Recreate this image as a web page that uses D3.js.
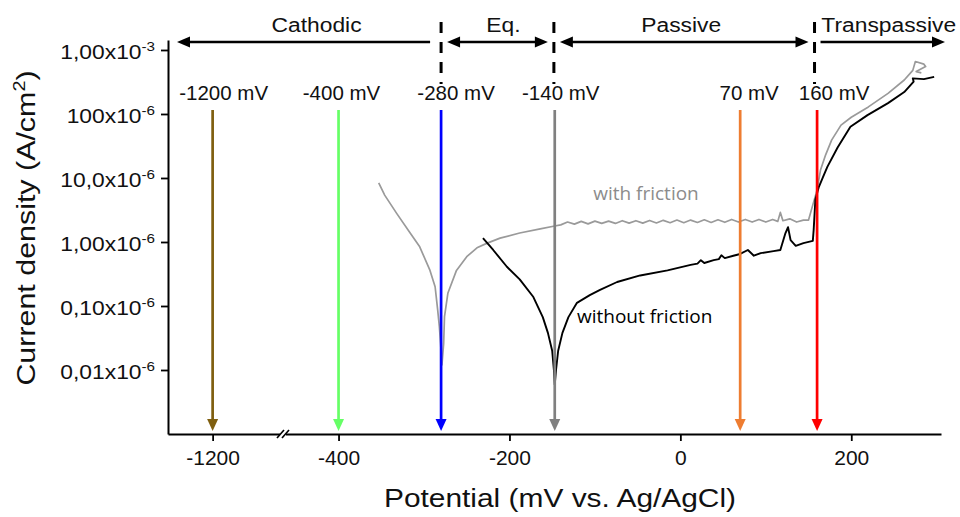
<!DOCTYPE html>
<html><head><meta charset="utf-8">
<script src="https://cdn.jsdelivr.net/npm/d3@7"></script>
<style>body{margin:0;background:#fff}svg{display:block}</style>
</head><body>
<svg id="c" width="960" height="517"></svg>
<script>
// ---------- data ----------
const xTicks = [-1200, -400, -200, 0, 200];
const xTickLabels = ["-1200", "-400", "-200", "0", "200"];
const yTicks = [1e-3, 1e-4, 1e-5, 1e-6, 1e-7, 1e-8];
const yTickMain = ["1,00x10", "100x10", "10,0x10", "1,00x10", "0,10x10", "0,01x10"];
const yTickSup = ["-3", "-6", "-6", "-6", "-6", "-6"];

// potential (mV), current density (A/cm2)
const withFriction = [
  [-353, 8.4e-6], [-346, 5.4e-6], [-332, 2.8e-6], [-317, 1.43e-6], [-305, 8.4e-7],
  [-293, 3.6e-7], [-287, 2.0e-7], [-284, 8.7e-8], [-282, 4.7e-8], [-280.5, 2.5e-8],
  [-279, 1.2e-8], [-277, 2.6e-8], [-276, 6.8e-8], [-272, 1.6e-7], [-262, 3.6e-7],
  [-250, 5.9e-7], [-238, 8.1e-7], [-226, 9.6e-7], [-211, 1.15e-6], [-188, 1.38e-6],
  [-164, 1.6e-6], [-147, 1.78e-6], [-140, 1.85e-6], [-132, 2.05e-6], [-124, 1.9e-6],
  [-116, 2.1e-6], [-108, 1.92e-6], [-100, 2.12e-6], [-92, 1.95e-6], [-84, 2.12e-6],
  [-76, 1.95e-6], [-68, 2.15e-6], [-60, 1.97e-6], [-52, 2.15e-6], [-44, 1.97e-6],
  [-36, 2.17e-6], [-28, 1.98e-6], [-20, 2.18e-6], [-12, 2.0e-6], [-4, 2.2e-6],
  [4, 2.0e-6], [12, 2.2e-6], [20, 2.02e-6], [28, 2.22e-6], [36, 2.02e-6],
  [44, 2.22e-6], [52, 2.03e-6], [60, 2.25e-6], [68, 2.05e-6], [76, 2.25e-6],
  [84, 2.05e-6], [92, 2.25e-6], [100, 2.05e-6], [108, 2.25e-6], [114, 2.1e-6],
  [117, 2.9e-6], [120, 2.15e-6], [128, 2.3e-6], [136, 2.05e-6], [144, 2.2e-6],
  [150, 2.2e-6], [155, 3.8e-6], [160, 6.5e-6], [164, 1.33e-5], [170, 2.3e-5],
  [177, 3.9e-5], [188, 6.7e-5], [200, 8.9e-5], [220, 1.29e-4], [243, 2.1e-4],
  [262, 3.4e-4], [272, 4.8e-4], [275, 6.6e-4], [285, 6.0e-4], [287, 5.5e-4],
  [276, 4.6e-4], [282, 4.4e-4]
];
const withoutFriction = [
  [-231, 1.15e-6], [-219, 7.5e-7], [-203, 4.1e-7], [-188, 2.6e-7], [-172, 1.38e-7],
  [-161, 6.7e-8], [-155, 3.8e-8], [-150, 2.0e-8], [-148, 1.0e-8], [-147, 5.9e-9],
  [-145.5, 1.0e-8], [-143, 2.0e-8], [-138, 3.8e-8], [-131, 6.7e-8], [-121, 1.12e-7],
  [-106, 1.48e-7], [-94, 1.78e-7], [-74, 2.37e-7], [-47, 3.0e-7], [-15, 3.6e-7],
  [12, 4.4e-7], [20, 4.6e-7], [24, 5.2e-7], [28, 4.7e-7], [39, 5.2e-7],
  [45, 5.4e-7], [48, 6.2e-7], [52, 5.6e-7], [62, 6.1e-7], [70, 6.5e-7],
  [79, 7.5e-7], [86, 6.1e-7], [94, 6.7e-7], [109, 7.2e-7], [117, 7.5e-7],
  [123, 1.38e-6], [126, 1.7e-6], [129, 1.07e-6], [135, 8.7e-7], [144, 9.6e-7],
  [155, 1.04e-6], [156, 1.55e-6], [158, 4.6e-6], [162, 7.2e-6], [167, 1.04e-5],
  [172, 1.49e-5], [184, 3.0e-5], [199, 6.3e-5], [219, 9.6e-5], [243, 1.48e-4],
  [262, 2.2e-4], [273, 3.2e-4], [272, 3.6e-4], [285, 3.5e-4], [297, 3.8e-4]
];

const markerPotentials = [-1200, -400, -280, -147, 70, 160];
const markerLabels = ["-1200 mV", "-400 mV", "-280 mV", "-140 mV", "70 mV", "160 mV"];
const regionBounds = [-280, -148, 157];
const regionNames = ["Cathodic", "Eq.", "Passive", "Transpassive"];
const curveNames = ["with friction", "without friction"];
const curveNameAt = [[-102, 4.5e-6], [-121, 5.4e-8]];

// ---------- styles ----------
const markerColors = ["#7f5f10", "#66ff66", "#0000ff", "#808080", "#ee7d31", "#ff0000"];
const markerLabelDx = [11, 3, 15, 6, 9, 17];
const F = "'Liberation Sans', Arial, Helvetica, sans-serif";
const F2 = "'Open Sans', 'Noto Sans', sans-serif";

const svg = d3.select("#c");

const x = d3.scaleLinear()
  .domain([-1252, -1118, -465, 305])
  .range([168, 283, 283, 941]);
const y = d3.scaleLog()
  .domain([1e-9, Math.pow(10, -2.844)])
  .range([434, 40]);

// ---------- axes ----------
const xAxis = svg.append("g").attr("transform", `translate(0,${y.range()[0]})`)
  .call(d3.axisBottom(x).tickValues(xTicks).tickSize(7).tickSizeOuter(0)
    .tickFormat((d, i) => xTickLabels[i]));
xAxis.select(".domain").attr("stroke-width", 2);
xAxis.selectAll(".tick line").attr("stroke-width", 1.8);
xAxis.selectAll(".tick text").attr("font-family", F).attr("font-size", 21)
  .attr("fill", "#111").attr("y", 16);

// axis break
const bx = 283, by = y.range()[0];
svg.append("rect").attr("x", bx - 3).attr("y", by - 3).attr("width", 6).attr("height", 6).attr("fill", "#fff");
[-2.5, 2.5].forEach(o => {
  svg.append("line").attr("x1", bx + o - 3.5).attr("y1", by + 4).attr("x2", bx + o + 3.5).attr("y2", by - 4)
    .attr("stroke", "#000").attr("stroke-width", 1.6);
});

const yAxis = svg.append("g").attr("transform", `translate(${x.range()[0]},0)`)
  .call(d3.axisLeft(y).tickValues(yTicks).tickSize(7).tickSizeOuter(0));
yAxis.select(".domain").attr("stroke-width", 2);
yAxis.selectAll(".tick line").attr("stroke-width", 1.8);
yAxis.selectAll(".tick text").each(function (d, i) {
  const t = d3.select(this);
  t.text(null).attr("font-family", F).attr("font-size", 19.5).attr("fill", "#111")
    .attr("x", -13 / 1.17).attr("dy", null).attr("y", 8.5)
    .attr("transform", "scale(1.17,1)");
  t.append("tspan").text(yTickMain[i]);
  t.append("tspan").attr("font-size", 13).attr("dy", -8).text(yTickSup[i]);
});

// titles
svg.append("text").attr("transform", "translate(560,507) scale(1.15,1)")
  .attr("text-anchor", "middle").attr("font-family", F).attr("font-size", 26).attr("fill", "#111")
  .text("Potential (mV vs. Ag/AgCl)");
const yt = svg.append("text").attr("transform", "translate(35,228) rotate(-90) scale(1.17,1)")
  .attr("text-anchor", "middle").attr("font-family", F).attr("font-size", 26).attr("fill", "#111");
yt.append("tspan").text("Current density (A/cm");
yt.append("tspan").attr("font-size", 17).attr("dy", -10).text("2");
yt.append("tspan").attr("dy", 10).text(")");

// ---------- curves ----------
const line = d3.line().x(d => x(d[0])).y(d => y(d[1]));
svg.append("path").datum(withFriction).attr("d", line)
  .attr("fill", "none").attr("stroke", "#9a9a9a").attr("stroke-width", 1.7).attr("stroke-linejoin", "round");
svg.append("path").datum(withoutFriction).attr("d", line)
  .attr("fill", "none").attr("stroke", "#000").attr("stroke-width", 1.9).attr("stroke-linejoin", "round");

svg.append("text").attr("x", x(curveNameAt[0][0])).attr("y", y(curveNameAt[0][1]))
  .attr("font-family", F2).attr("font-size", 19).attr("fill", "#8c8c8c").text(curveNames[0]);
svg.append("text").attr("x", x(curveNameAt[1][0])).attr("y", y(curveNameAt[1][1]))
  .attr("font-family", F2).attr("font-size", 19).attr("fill", "#000").text(curveNames[1]);

// ---------- vertical marker arrows ----------
const arrowTop = 110, arrowTip = 431, headL = 12, headW = 5.5;
markerPotentials.forEach((p, i) => {
  const px = x(p);
  svg.append("line").attr("x1", px).attr("x2", px).attr("y1", arrowTop).attr("y2", arrowTip - headL + 1)
    .attr("stroke", markerColors[i]).attr("stroke-width", 2.7);
  svg.append("path").attr("d", `M${px - headW},${arrowTip - headL}L${px + headW},${arrowTip - headL}L${px},${arrowTip}Z`)
    .attr("fill", markerColors[i]);
  svg.append("text").attr("x", px + markerLabelDx[i]).attr("y", 100).attr("text-anchor", "middle")
    .attr("font-family", F).attr("font-size", 20.5).attr("fill", "#111").text(markerLabels[i]);
});

// ---------- region boundaries and arrows ----------
const topY = 42;
regionBounds.forEach(b => {
  svg.append("line").attr("x1", x(b)).attr("x2", x(b)).attr("y1", 22).attr("y2", 84)
    .attr("stroke", "#000").attr("stroke-width", 3).attr("stroke-dasharray", "11,9");
});
const bpx = regionBounds.map(b => x(b));
const segs = [
  [x.range()[0] + 9, bpx[0] - 11, true, false],
  [bpx[0] + 6, bpx[1] - 6, true, true],
  [bpx[1] + 6, bpx[2] - 6, true, true],
  [bpx[2] + 6, 945, false, true]
];
const labelDx = [13, 6, -3, 6];
function head(xTip, dir) {
  svg.append("path")
    .attr("d", `M${xTip},${topY}L${xTip - dir * 13},${topY - 5.5}L${xTip - dir * 13},${topY + 5.5}Z`)
    .attr("fill", "#000");
}
segs.forEach((s, i) => {
  svg.append("line").attr("x1", s[2] ? s[0] + 10 : s[0]).attr("x2", s[3] ? s[1] - 10 : s[1])
    .attr("y1", topY).attr("y2", topY).attr("stroke", "#000").attr("stroke-width", 2.6);
  if (s[2]) head(s[0], -1);
  if (s[3]) head(s[1], 1);
  svg.append("text").attr("transform", `translate(${(s[0] + s[1]) / 2 + labelDx[i]},32) scale(1.17,1)`)
    .attr("text-anchor", "middle").attr("font-family", F).attr("font-size", 19.5).attr("fill", "#111")
    .text(regionNames[i]);
});
</script>
</body></html>
